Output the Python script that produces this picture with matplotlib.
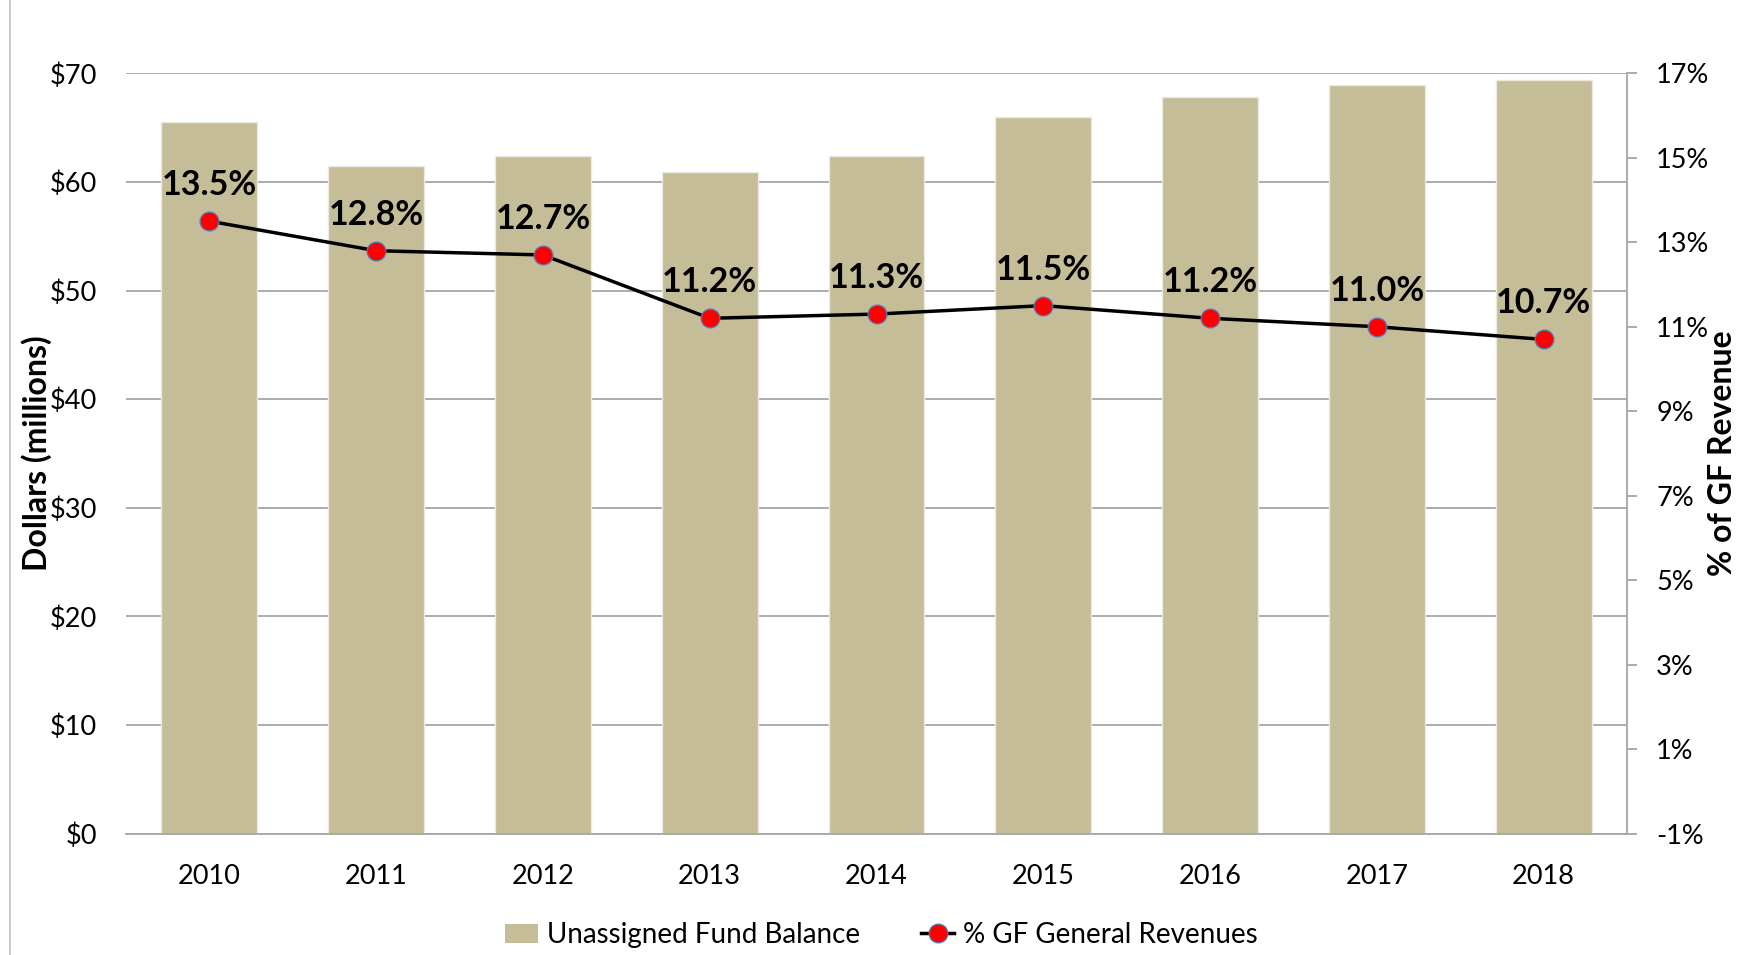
import matplotlib.pyplot as plt
import numpy as np
from matplotlib.lines import Line2D
from matplotlib.patches import Patch, Rectangle

plt.rcParams["font.family"] = ["Lato", "DejaVu Sans"]

years = ["2010", "2011", "2012", "2013", "2014", "2015", "2016", "2017", "2018"]
fund_balance = [65.5, 61.5, 62.4, 60.9, 62.4, 66.0, 67.8, 68.9, 69.4]
pct_revenue = [13.5, 12.8, 12.7, 11.2, 11.3, 11.5, 11.2, 11.0, 10.7]
dollar_ticks = [0, 10, 20, 30, 40, 50, 60, 70]
pct_ticks = [-1, 1, 3, 5, 7, 9, 11, 13, 15, 17]

bar_color = "#C4BD97"
grid_color = "#A6A6A6"

fig = plt.figure(figsize=(17.45, 9.55), dpi=100)
ax = fig.add_axes([0.0722, 0.1272, 0.8602, 0.796])

x = np.arange(len(years))
ax.bar(x, fund_balance, width=0.575, color=bar_color, edgecolor="#ECE9DE",
       linewidth=1.0, zorder=2)
ax.set_xlim(-0.5, len(years) - 0.5)
ax.set_ylim(0, 70)
ax.set_yticks(dollar_ticks)
ax.set_yticklabels([f"${v}" for v in dollar_ticks])
ax.set_xticks(x)
ax.set_xticklabels(years)
ax.yaxis.grid(True, color=grid_color, linewidth=1.3, zorder=0)
ax.set_axisbelow(True)
for side in ["left", "top", "right"]:
    ax.spines[side].set_visible(False)
ax.spines["bottom"].set_color(grid_color)
ax.spines["bottom"].set_linewidth(1.3)
ax.tick_params(axis="y", length=0, pad=21, labelsize=19.5)
ax.tick_params(axis="x", length=0, pad=22, labelsize=19.5)

ax2 = ax.twinx()
ax2.set_ylim(-1, 17)
ax2.set_yticks(pct_ticks)
ax2.set_yticklabels([f"{v}%" for v in pct_ticks])
for side in ["left", "top", "bottom"]:
    ax2.spines[side].set_visible(False)
ax2.spines["right"].set_color(grid_color)
ax2.spines["right"].set_linewidth(1.3)
ax2.tick_params(axis="y", direction="out", length=7, width=1.3, color=grid_color,
                pad=14, labelsize=19.5)

ax2.plot(x, pct_revenue, color="black", linewidth=2.5, marker="o", markersize=13.5,
         markerfacecolor="red", markeredgecolor="#4F7BC0", markeredgewidth=0.9,
         zorder=3)
for xi, v in zip(x, pct_revenue):
    ax2.annotate(f"{v:.1f}%", (xi, v), xytext=(0, 26), textcoords="offset points",
                 ha="center", va="center", fontsize=24.5, fontweight="bold")

fig.text(37 / 1745, 0.525, "Dollars (millions)", rotation=90, ha="center",
         va="center", fontsize=23, fontweight="bold")
fig.text(1723 / 1745, 0.525, "% of GF Revenue", rotation=90, ha="center",
         va="center", fontsize=23, fontweight="bold")

handles = [
    Patch(facecolor=bar_color, edgecolor="none"),
    Line2D([0], [0], color="black", linewidth=2.5, marker="o", markersize=13.5,
           markerfacecolor="red", markeredgecolor="#4F7BC0", markeredgewidth=0.9),
]
fig.legend(handles, ["Unassigned Fund Balance", "% GF General Revenues"],
           loc="center", bbox_to_anchor=(0.505, 0.021), ncol=2, frameon=False,
           fontsize=20, handlelength=1.2, handletextpad=0.3, columnspacing=2.2)

# chart frame
fig.patches.append(Rectangle((10 / 1745, -0.01), 1.2, 1.2, transform=fig.transFigure,
                             fill=False, edgecolor="#BFBFBF", linewidth=1.2))

fig.savefig("out.png", dpi=100)
